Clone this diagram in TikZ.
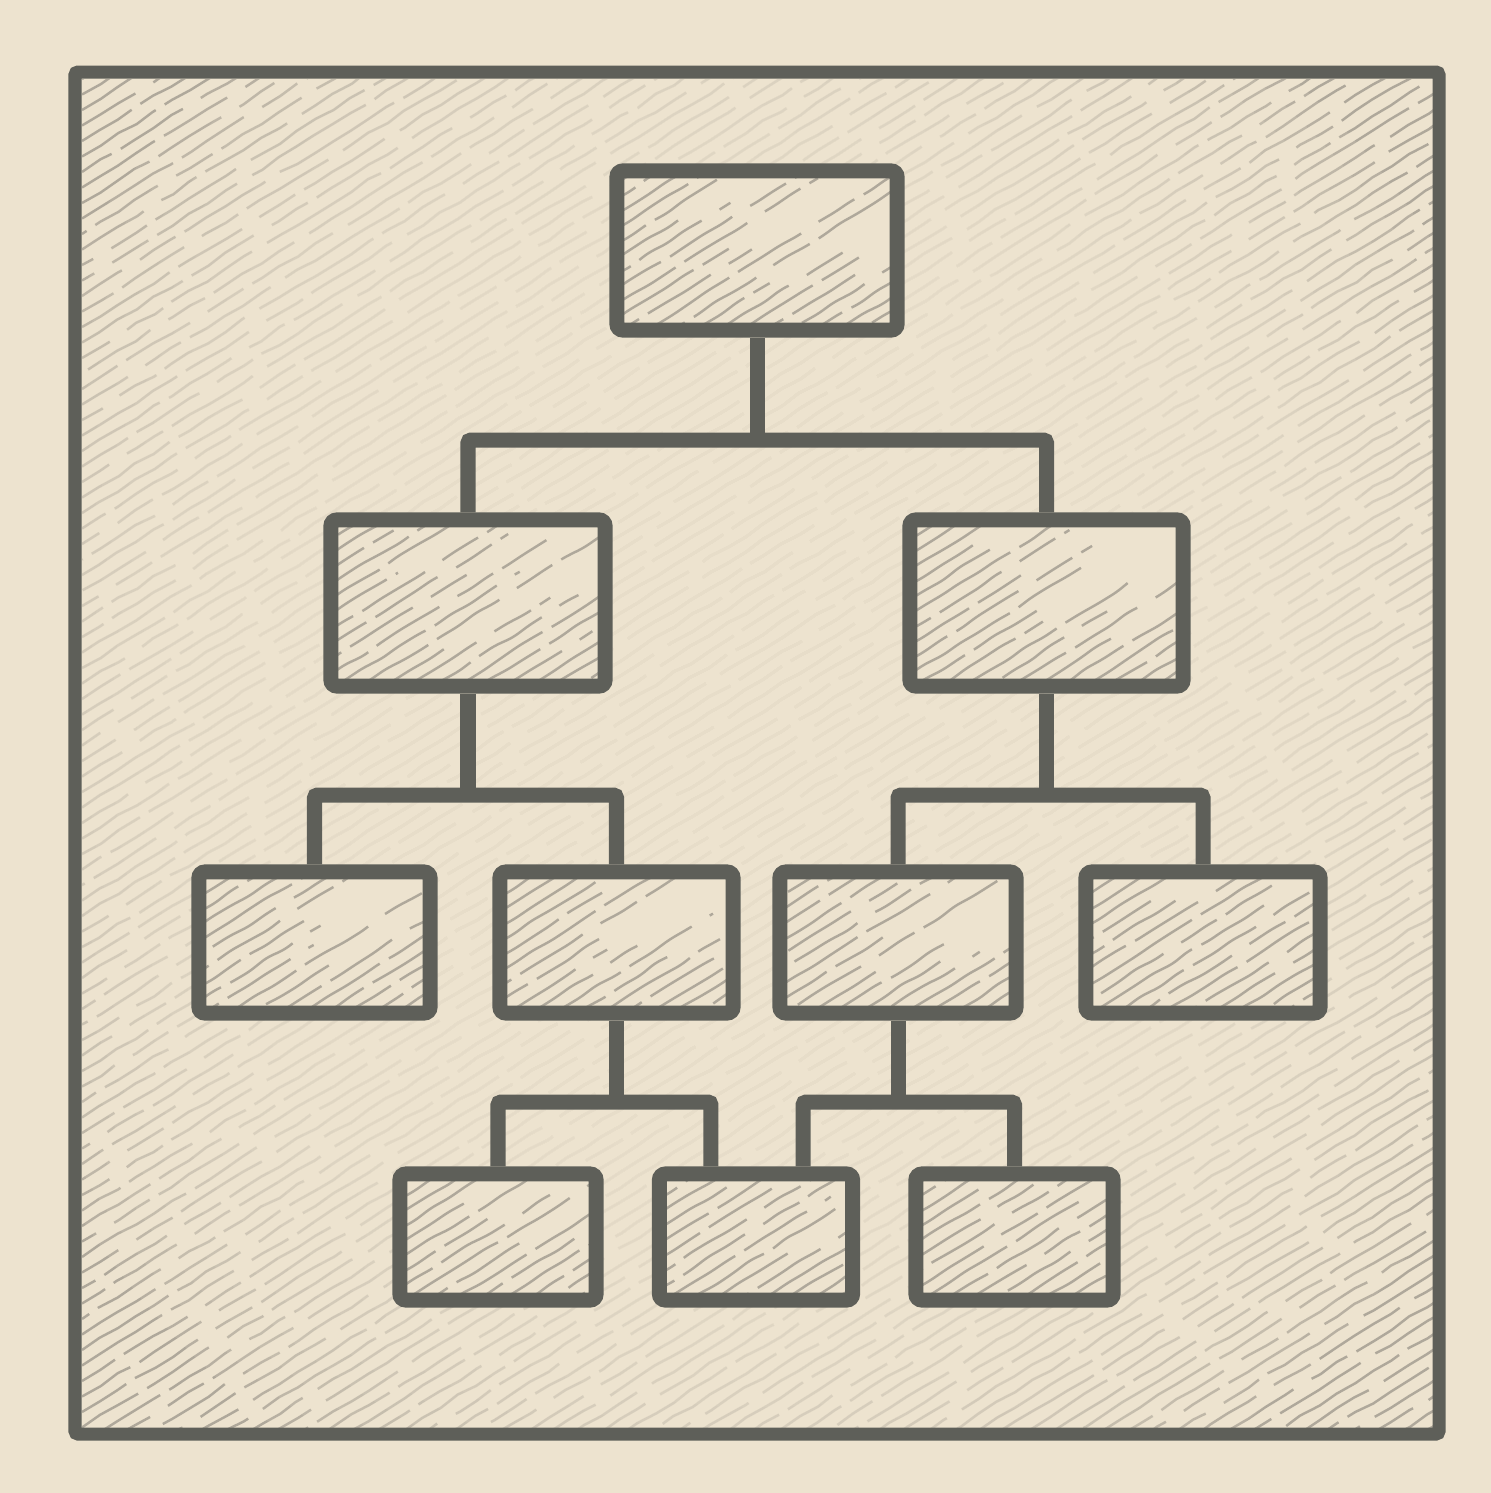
\documentclass[tikz,border=0pt]{standalone}
\usepackage{tikz}
\usetikzlibrary{
  calc,                     % anchors inside the hatching
  decorations.pathmorphing  % shaky pencil strokes
}
\definecolor{paper}{RGB}{237,227,207}
\definecolor{ink}{RGB}{94,95,89}
\definecolor{graphite}{RGB}{100,98,92}

\begin{document}
\begin{tikzpicture}[x=0.01cm, y=-0.01cm, % one unit = one pixel of the sheet, y downwards
  sketch/.style={draw=graphite, line width=0.7pt, draw opacity=0.45,
    dash pattern=on 38pt off 3pt on 21pt off 6pt on 12pt off 3pt on 27pt off 5pt,
    decorate, decoration={random steps, segment length=6pt, amplitude=0.4pt}},
  box/.style={draw=ink, line width=1.5mm, rounded corners=0.6mm, fill=paper, inner sep=0pt,
    path picture={
      % strokes from the bottom edge
      \foreach \k in {0,...,12}{
        \pgfmathsetmacro{\ph}{rnd*40}
        \pgfmathsetmacro{\len}{0.2+0.45*rnd}
        \draw[sketch, dash phase=\ph pt]
          ($(path picture bounding box.south west)+(\k*24-4,6)$) -- ++(420*\len,-262*\len);
      }
      % strokes from the left edge
      \foreach \k in {1,...,10}{
        \pgfmathsetmacro{\ph}{rnd*40}
        \pgfmathsetmacro{\len}{0.15+0.4*rnd}
        \draw[sketch, dash phase=\ph pt]
          ($(path picture bounding box.south west)+(-4,6-\k*15)$) -- ++(420*\len,-262*\len);
      }
    }},
  link/.style={draw=ink, line width=1.5mm, rounded corners=0.3mm}]

  \useasboundingbox (0,0) rectangle (1491,1493);
  \fill[paper] (0,0) rectangle (1491,1493);

  % =============== pencil hatching of the sheet ===============
  \begin{scope}
    \clip (82,79) rectangle (1433,1428);
    \foreach \k in {0,...,150}{
      \pgfmathsetmacro{\ph}{rnd*60}
      \draw[sketch, dash phase=\ph pt] (82,79+\k*15.5) -- ++(1360,-843);
    }
    % the middle of the sheet stays almost clean
    \foreach \r in {820,795,...,20}
      \fill[paper, fill opacity=0.15] (757,730) ellipse [x radius=\r, y radius=\r*1.05];
  \end{scope}

  % frame
  \draw[ink, line width=1.3mm, rounded corners=0.3mm] (75,72) rectangle (1439,1434);

  % =============== boxes of the chart ===============
  \node[box, minimum width=2.80cm, minimum height=1.59cm] (top)   at (757,250.5) {};

  \node[box, minimum width=2.74cm, minimum height=1.66cm] (midL)  at (468,603) {};
  \node[box, minimum width=2.73cm, minimum height=1.66cm] (midR)  at (1046.5,603) {};

  \node[box, minimum width=2.31cm, minimum height=1.41cm] (lowA)  at (314.5,942.5) {};
  \node[box, minimum width=2.33cm, minimum height=1.41cm] (lowB)  at (616.5,942.5) {};
  \node[box, minimum width=2.36cm, minimum height=1.41cm] (lowC)  at (898,942.5) {};
  \node[box, minimum width=2.34cm, minimum height=1.41cm] (lowD)  at (1203,942.5) {};

  \node[box, minimum width=1.96cm, minimum height=1.26cm] (botA)  at (498,1237) {};
  \node[box, minimum width=1.93cm, minimum height=1.26cm] (botB)  at (756,1237) {};
  \node[box, minimum width=1.97cm, minimum height=1.26cm] (botC)  at (1014.5,1237) {};

  % =============== connectors ===============
  \coordinate (bar1) at (0,440);
  \coordinate (bar2) at (0,795);
  \coordinate (bar3) at (0,1102);
  % the middle box of the last row hangs from two parents
  \coordinate (botBl) at ([xshift=-0.45cm]botB.north);
  \coordinate (botBr) at ([xshift=0.47cm]botB.north);

  \draw[link] (top.south) -- (top.south |- bar1);
  \draw[link] (midL.north) -- (midL.north |- bar1) -- (midR.north |- bar1) -- (midR.north);

  \draw[link] (midL.south) -- (midL.south |- bar2);
  \draw[link] (lowA.north) -- (lowA.north |- bar2) -- (lowB.north |- bar2) -- (lowB.north);
  \draw[link] (midR.south) -- (midR.south |- bar2);
  \draw[link] (lowC.north) -- (lowC.north |- bar2) -- (lowD.north |- bar2) -- (lowD.north);

  \draw[link] (lowB.south) -- (lowB.south |- bar3);
  \draw[link] (botA.north) -- (botA.north |- bar3) -- (botBl |- bar3) -- (botBl);
  \draw[link] (lowC.south) -- (lowC.south |- bar3);
  \draw[link] (botBr) -- (botBr |- bar3) -- (botC.north |- bar3) -- (botC.north);

\end{tikzpicture}
\end{document}
